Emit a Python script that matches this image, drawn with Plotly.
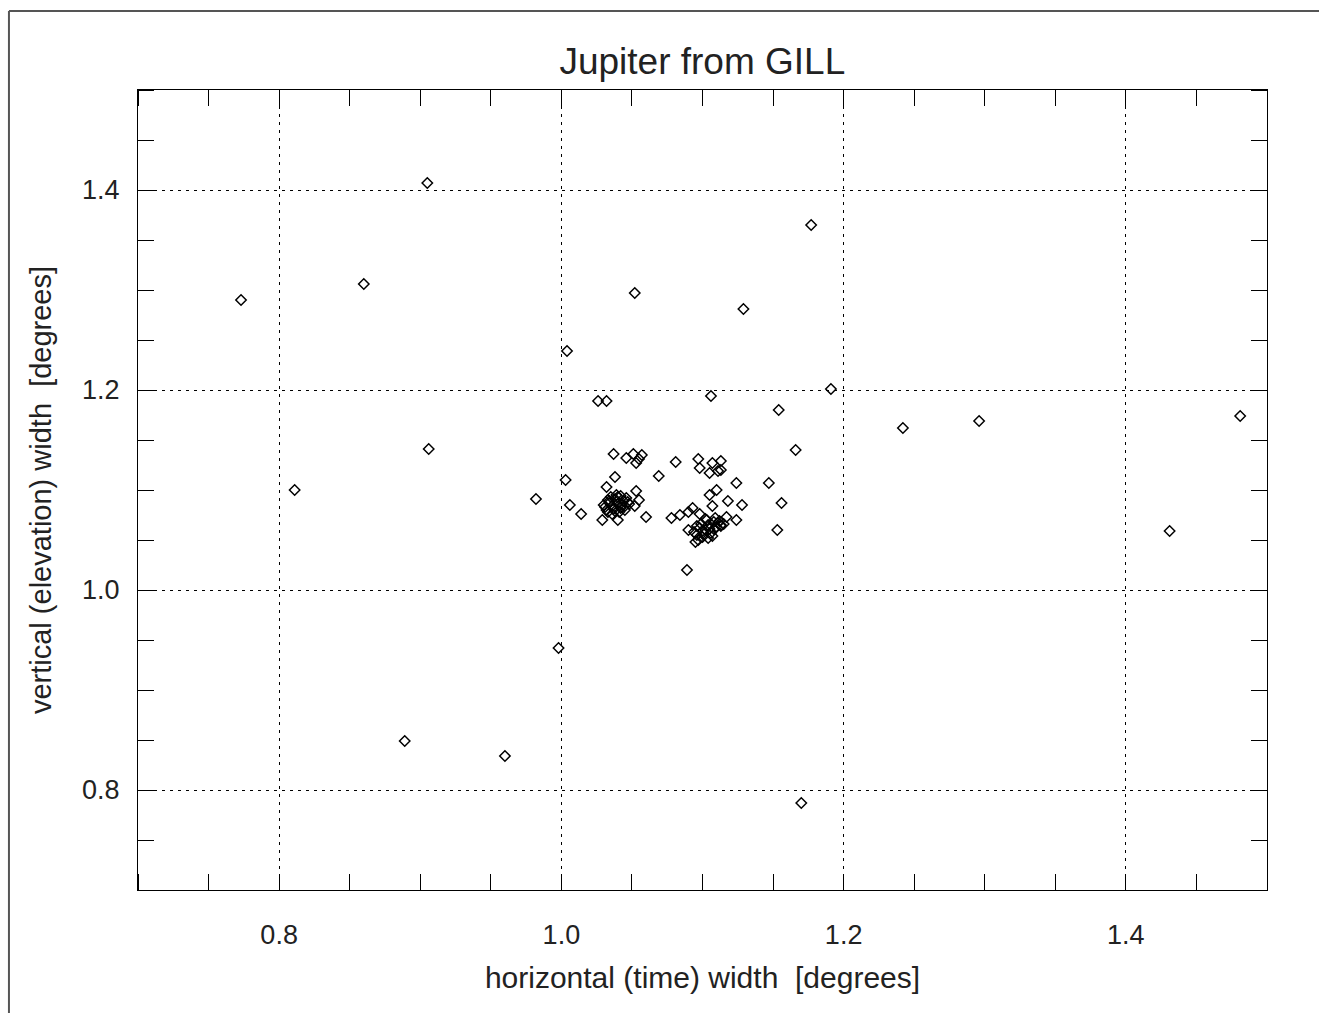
import plotly.graph_objects as go

# horizontal (time) width [deg], vertical (elevation) width [deg]
h_width = [
    0.773, 0.811, 0.860, 0.905, 0.906, 0.889, 0.960, 0.998, 1.004, 1.052,
    1.026, 1.032, 1.129, 1.177, 1.191, 1.154, 1.106, 1.166, 1.242, 1.296,
    1.481, 1.431, 1.170, 1.089, 0.982, 1.153, 1.156, 1.147,
    1.003, 1.006, 1.014, 1.029, 1.032, 1.038, 1.037, 1.046, 1.051, 1.053,
    1.057, 1.055, 1.040, 1.045, 1.053, 1.055, 1.052, 1.060, 1.069, 1.081,
    1.078, 1.084, 1.090, 1.093, 1.098, 1.097, 1.098, 1.105, 1.107, 1.113,
    1.111, 1.113, 1.110, 1.105, 1.107, 1.118, 1.124, 1.128, 1.124, 1.117,
    1.113, 1.095, 1.090,
    # left dense cluster
    1.030, 1.032, 1.034, 1.033, 1.036, 1.038, 1.035, 1.040, 1.042, 1.044,
    1.046, 1.041, 1.037, 1.034, 1.039, 1.043, 1.047, 1.031, 1.036, 1.040,
    1.045, 1.033, 1.038, 1.042, 1.048,
    # right dense cluster
    1.094, 1.096, 1.098, 1.100, 1.102, 1.104, 1.106, 1.108, 1.110, 1.097,
    1.099, 1.101, 1.103, 1.105, 1.107, 1.109, 1.111, 1.113, 1.096, 1.100,
    1.104, 1.108, 1.112, 1.115, 1.102,
]
v_width = [
    1.290, 1.100, 1.306, 1.407, 1.141, 0.849, 0.834, 0.942, 1.239, 1.297,
    1.189, 1.189, 1.281, 1.365, 1.201, 1.180, 1.194, 1.140, 1.162, 1.169,
    1.174, 1.059, 0.787, 1.020, 1.091, 1.060, 1.087, 1.107,
    1.110, 1.085, 1.076, 1.070, 1.103, 1.113, 1.136, 1.132, 1.136, 1.127,
    1.135, 1.131, 1.070, 1.080, 1.099, 1.090, 1.084, 1.073, 1.114, 1.128,
    1.072, 1.075, 1.078, 1.082, 1.076, 1.131, 1.122, 1.117, 1.127, 1.129,
    1.119, 1.120, 1.100, 1.095, 1.084, 1.089, 1.107, 1.085, 1.070, 1.073,
    1.065, 1.048, 1.060,
    1.085, 1.080, 1.089, 1.078, 1.084, 1.091, 1.093, 1.086, 1.082, 1.089,
    1.092, 1.078, 1.081, 1.087, 1.095, 1.085, 1.088, 1.083, 1.076, 1.093,
    1.084, 1.090, 1.079, 1.094, 1.086,
    1.058, 1.055, 1.062, 1.053, 1.060, 1.065, 1.057, 1.068, 1.063, 1.050,
    1.066, 1.056, 1.070, 1.061, 1.054, 1.072, 1.067, 1.064, 1.064, 1.059,
    1.052, 1.061, 1.069, 1.066, 1.071,
]

title_text = "Jupiter from GILL"
x_title = "horizontal (time) width  [degrees]"
y_title = "vertical (elevation) width  [degrees]"
tick_vals = [0.8, 1.0, 1.2, 1.4]
tick_text = ["0.8", "1.0", "1.2", "1.4"]

FONT = "Liberation Sans, Arial, Helvetica, sans-serif"

fig = go.Figure()
fig.add_trace(go.Scatter(
    x=h_width, y=v_width, mode="markers",
    marker=dict(symbol="diamond-open", size=8, color="black",
                line=dict(color="black", width=1.5)),
    showlegend=False,
))

axis_common = dict(
    tickmode="array", tickvals=tick_vals, ticktext=tick_text,
    ticks="", showline=True, linecolor="black", linewidth=1.2, mirror="ticks",
    showgrid=True, gridcolor="black", gridwidth=1, griddash="3px,5px",
    zeroline=False, tickfont=dict(size=27, color="#222", family=FONT),
    minor=dict(dtick=0.05, tick0=0.7, ticks="inside", ticklen=16,
               tickcolor="black", tickwidth=1, showgrid=False),
)

fig.update_layout(
    width=1319, height=1013,
    margin=dict(l=138, r=52, t=90, b=123),
    paper_bgcolor="white", plot_bgcolor="white",
    font=dict(family=FONT, color="#222"),
    title=dict(text=title_text, x=0.5325, xanchor="center", y=0.94, yanchor="middle",
               font=dict(size=37, family=FONT, color="#222")),
    xaxis=dict(range=[0.7, 1.5], ticklabelstandoff=20,
               title=dict(text=x_title, font=dict(size=30), standoff=18),
               **axis_common),
    yaxis=dict(range=[0.7, 1.5], ticklabelstandoff=12,
               title=dict(text=y_title, font=dict(size=29), standoff=21),
               **axis_common),
)

# outer frame (only top and left edges visible)
fig.add_shape(type="line", xref="paper", yref="paper", x0=-0.1143, x1=-0.1143,
              y0=-0.2, y1=1.0988, line=dict(color="#555", width=2))
fig.add_shape(type="line", xref="paper", yref="paper", x0=-0.1143, x1=1.1,
              y0=1.0988, y1=1.0988, line=dict(color="#555", width=2))

fig.write_html("out.html")
